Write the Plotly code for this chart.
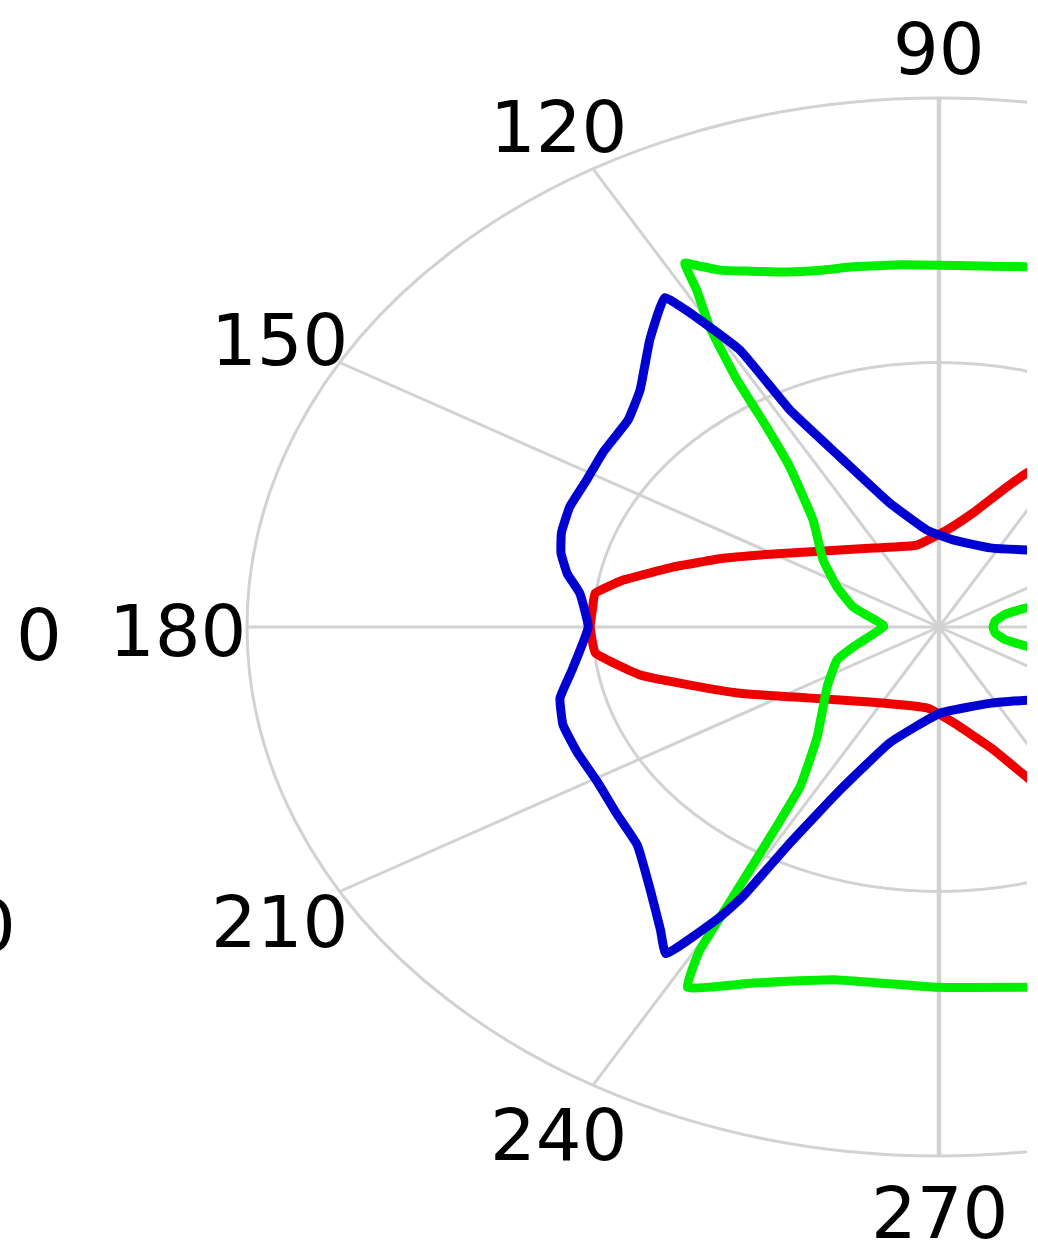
import numpy as np
import plotly.graph_objects as go

# ---------------- data (angles in degrees, normalised radius) ----------------
red_theta = [62, 66.4, 69.7, 77.2, 86.3, 101.6, 122.5, 143.4, 152.7, 157.4, 163.6, 167.3,
             169.0, 172.7, 176.3, 180, 185.6, 191.9, 197.0, 203.5, 215.1, 236.2, 263.7,
             276.3, 288.0, 294.1, 297]
red_r = [0.37, 0.318, 0.282, 0.221, 0.184, 0.158, 0.177, 0.238, 0.296, 0.338, 0.401, 0.443,
         0.465, 0.501, 0.502, 0.504, 0.499, 0.441, 0.376, 0.314, 0.233, 0.171, 0.154,
         0.181, 0.239, 0.311, 0.36]

green_theta = [75, 79.4, 85.0, 90.3, 94.7, 100.3, 104.3, 108.1, 112.1, 115.1, 116.9, 118.1,
               118.8, 120.3, 122.0, 123.4, 125.5, 132.0, 142.9, 152.7, 163.0, 177, 180,
               197.0, 202.9, 214.9, 229.8, 236.4, 238.3, 239.9, 240.5, 241.9, 248.2, 257.6,
               269.8, 280.6, 285]
green_r = [0.70, 0.693, 0.685, 0.684, 0.687, 0.692, 0.696, 0.706, 0.726, 0.745, 0.765, 0.780,
           0.727, 0.657, 0.551, 0.452, 0.371, 0.272, 0.210, 0.166, 0.130, 0.081, 0.080,
           0.130, 0.160, 0.197, 0.273, 0.363, 0.457, 0.611, 0.702, 0.772, 0.725, 0.683,
           0.681, 0.693, 0.705]
# small green lobe around 0 degrees (rest of it lies outside the visible crop)
green2_theta = [15, 16, 14, 8, 0, 352, 346, 344, 345]
green2_r = [0.18, 0.133, 0.098, 0.082, 0.078, 0.082, 0.098, 0.133, 0.18]

blue_theta = [40, 49, 63.6, 83, 95.4, 106.9, 114.0, 117.7, 118.8, 121.2, 122.5, 127.6, 134.0,
              138.9, 145.9, 151.4, 156.9, 161.9, 165.6, 169.3, 173.0, 180, 188.4, 193.8,
              198.8, 204.3, 210.7, 217.4, 223.4, 230.0, 234.9, 237.4, 240.0, 240.9, 242.2,
              245.1, 252.0, 270.4, 297, 312.6, 320]
blue_r = [0.225, 0.193, 0.167, 0.166, 0.184, 0.245, 0.352, 0.463, 0.598, 0.694, 0.738, 0.685,
          0.622, 0.596, 0.587, 0.580, 0.580, 0.574, 0.564, 0.547, 0.523, 0.507, 0.535, 0.564,
          0.574, 0.574, 0.574, 0.585, 0.600, 0.649, 0.700, 0.733, 0.633, 0.584, 0.461,
          0.340, 0.230, 0.163, 0.162, 0.188, 0.22]

angle_ticks = [0, 30, 60, 90, 120, 150, 180, 210, 240, 270, 300, 330]
angle_labels = ["0", "30", "60", "90", "120", "150", "180", "210", "240", "270", "300", "330"]
ring_ticks = [0.5, 1.0]
R_MAX = 1.0

GRID = "#d2d2d2"
FONT = dict(family="DejaVu Sans", size=72, color="#000000")


def to_xy(theta_deg, r):
    t = np.radians(np.asarray(theta_deg, dtype=float))
    rr = np.asarray(r, dtype=float)
    return rr * np.cos(t), rr * np.sin(t)


fig = go.Figure()

# grid: rings and spokes
shapes = []
for rt in ring_ticks:
    shapes.append(dict(type="circle", xref="x", yref="y", x0=-rt, x1=rt, y0=-rt, y1=rt,
                       line=dict(color=GRID, width=3), layer="below"))
for a in angle_ticks:
    xe, ye = to_xy([a], [R_MAX])
    w = 4.5 if a in (90, 270) else 3
    shapes.append(dict(type="line", xref="x", yref="y", x0=0, y0=0,
                       x1=float(xe[0]), y1=float(ye[0]),
                       line=dict(color=GRID, width=w), layer="below"))

# curves (drawn in order red, green, blue)
for th, rr, col in [(red_theta, red_r, "#ee0000"),
                    (green_theta, green_r, "#00ee00"),
                    (green2_theta, green2_r, "#00ee00"),
                    (blue_theta, blue_r, "#0000d0")]:
    x, y = to_xy(th, rr)
    fig.add_trace(go.Scatter(x=x, y=y, mode="lines",
                             line=dict(color=col, width=9, shape="spline", smoothing=0.35),
                             hoverinfo="skip", showlegend=False))

# angle labels at 1.1 * rmax
annotations = []
for a, lab in zip(angle_ticks, angle_labels):
    xl, yl = to_xy([a], [1.1 * R_MAX])
    annotations.append(dict(x=float(xl[0]), y=float(yl[0]), xref="x", yref="y", text=lab,
                            showarrow=False, xanchor="center", yanchor="middle",
                            yshift=-4, font=FONT))

# fragments of a neighbouring chart's labels at the left edge
annotations.append(dict(x=39 / 1027, y=1 - 631 / 1248, xref="paper", yref="paper", text="0",
                        showarrow=False, xanchor="center", yanchor="middle", yshift=-4,
                        font=FONT))
annotations.append(dict(x=-7 / 1027, y=1 - 922 / 1248, xref="paper", yref="paper", text="0",
                        showarrow=False, xanchor="center", yanchor="middle", yshift=-4,
                        font=FONT))

# pixel geometry of the (cropped, stretched) plot: centre at (939, 627), rx=692, ry=529
CX, CY, RX, RY = 939, 627, 692, 529
PLOT_W, PLOT_H = 1027, 1248
fig.update_layout(
    width=1038, height=1248,
    margin=dict(l=0, r=1038 - PLOT_W, t=0, b=0, pad=0),
    paper_bgcolor="white", plot_bgcolor="white",
    xaxis=dict(range=[(0 - CX) / RX, (PLOT_W - CX) / RX], visible=False, showgrid=False,
               zeroline=False, fixedrange=True),
    yaxis=dict(range=[(CY - PLOT_H) / RY, CY / RY], visible=False, showgrid=False,
               zeroline=False, fixedrange=True),
    shapes=shapes, annotations=annotations, showlegend=False,
)

fig.write_html("out.html", config={"displayModeBar": False},
               post_script="document.body.style.margin='0';document.body.style.overflow='hidden';")
